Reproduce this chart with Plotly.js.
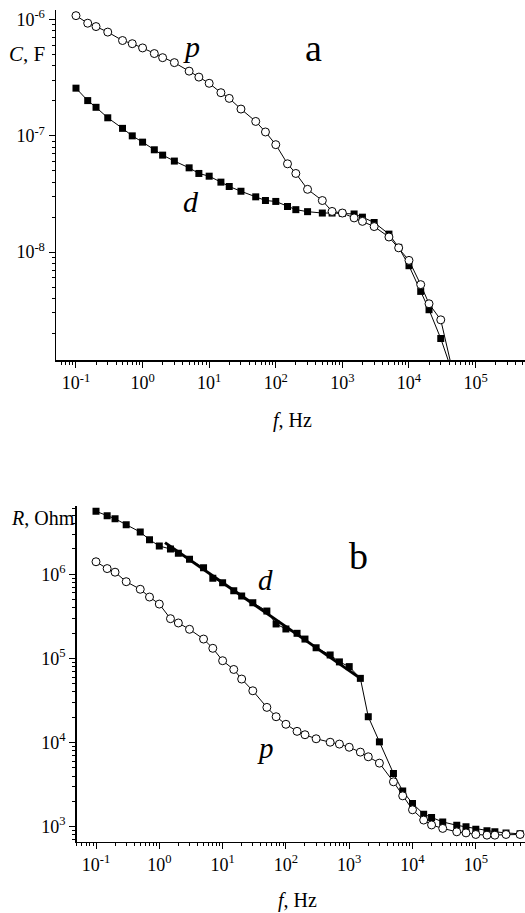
<!DOCTYPE html>
<html>
<head>
<meta charset="utf-8">
<script src="https://cdn.plot.ly/plotly-3.0.1.min.js"></script>
<style>html,body{margin:0;padding:0;background:#fff;}#chart{width:525px;height:913px;}</style>
</head>
<body>
<div id="chart"></div>
<script>
// Panel a: capacitance vs frequency
const fTop = [0.1,0.15,0.2,0.3,0.5,0.7,1,1.5,2,3,5,7,10,15,20,30,50,70,100,150,200,300,500,700,1000,1500,2000,3000,5000,7000,1e4,1.5e4,2e4,3e4,5e4];
const cP = [1.08e-6,9.3e-7,8.7e-7,7.8e-7,6.6e-7,6.2e-7,5.7e-7,5.1e-7,4.7e-7,4.26e-7,3.6e-7,3.2e-7,2.83e-7,2.35e-7,2.1e-7,1.7e-7,1.33e-7,1.08e-7,8.4e-8,5.75e-8,4.75e-8,3.47e-8,2.78e-8,2.24e-8,2.17e-8,1.97e-8,1.84e-8,1.66e-8,1.35e-8,1.09e-8,8.5e-9,5.26e-9,3.6e-9,2.62e-9,7.4e-10];
const cD = [2.57e-7,2.01e-7,1.76e-7,1.43e-7,1.16e-7,1.0e-7,8.83e-8,7.59e-8,6.83e-8,6.07e-8,5.31e-8,4.75e-8,4.5e-8,4.0e-8,3.67e-8,3.34e-8,2.99e-8,2.78e-8,2.73e-8,2.47e-8,2.32e-8,2.23e-8,2.17e-8,2.17e-8,2.16e-8,2.13e-8,2.0e-8,1.8e-8,1.43e-8,1.1e-8,7.65e-9,4.6e-9,3.2e-9,1.81e-9,7.7e-10];

// Panel b: resistance vs frequency
const fBot = [0.1,0.15,0.2,0.3,0.5,0.7,1,1.5,2,3,5,7,10,15,20,30,50,70,100,150,200,300,500,700,1000,1500,2000,3000,5000,7000,1e4,1.5e4,2e4,3e4,5e4,7e4,1e5,1.5e5,2e5,3e5,5e5];
const rD = [5.61e6,4.98e6,4.58e6,3.89e6,3.18e6,2.58e6,2.17e6,2.0e6,1.78e6,1.51e6,1.20e6,9.0e5,7.95e5,6.38e5,5.52e5,4.6e5,3.66e5,2.57e5,2.24e5,1.99e5,1.70e5,1.34e5,1.10e5,9.1e4,8.0e4,5.8e4,2.03e4,1.02e4,4.3e3,2.65e3,1.89e3,1.41e3,1.29e3,1.14e3,1.04e3,997,936,893,870,845,823];
const rP = [1.41e6,1.17e6,1.06e6,8.17e5,6.64e5,5.37e5,4.43e5,2.97e5,2.64e5,2.22e5,1.70e5,1.32e5,9.4e4,7.4e4,5.69e4,4.13e4,2.62e4,2.03e4,1.65e4,1.36e4,1.24e4,1.11e4,1.01e4,9.6e3,8.8e3,7.7e3,6.78e3,5.70e3,3.42e3,2.33e3,1.59e3,1.20e3,1.05e3,955,870,845,809,794,794,809,809];
const fitF = [1.23, 1500];
const fitR = [2.38e6, 5.8e4];

// Tick labels
const xTickVals = [0.1,1,10,100,1000,1e4,1e5];
const xTickText = ['10<sup>-1</sup>','10<sup>0</sup>','10<sup>1</sup>','10<sup>2</sup>','10<sup>3</sup>','10<sup>4</sup>','10<sup>5</sup>'];
const cTickVals = [1e-8,1e-7,1e-6];
const cTickText = ['10<sup>-8</sup>','10<sup>-7</sup>','10<sup>-6</sup>'];
const rTickVals = [1e3,1e4,1e5,1e6];
const rTickText = ['10<sup>3</sup>','10<sup>4</sup>','10<sup>5</sup>','10<sup>6</sup>'];

const FONT = 'Liberation Serif, Times New Roman, serif';
const W = 525, H = 913;
const px = x => x / W;
const py = y => 1 - y / H;

const sq = {symbol:'square', size:7, color:'#000', line:{color:'#000', width:0}};
const ci = {symbol:'circle', size:8, color:'#fff', line:{color:'#000', width:1}};
const thin = {color:'#000', width:1};

const traces = [
  {x:fTop, y:cD, xaxis:'x', yaxis:'y', mode:'lines+markers', line:thin, marker:sq},
  {x:fTop, y:cP, xaxis:'x', yaxis:'y', mode:'lines+markers', line:thin, marker:ci},
  {x:fBot, y:rD, xaxis:'x2', yaxis:'y2', mode:'lines+markers', line:thin, marker:sq},
  {x:fitF, y:fitR, xaxis:'x2', yaxis:'y2', mode:'lines', line:{color:'#000', width:3}},
  {x:fBot, y:rP, xaxis:'x2', yaxis:'y2', mode:'lines+markers', line:thin, marker:ci}
];

function axisBase(extra) {
  return Object.assign({
    type:'log', showgrid:false, zeroline:false, showline:true, linecolor:'#000', linewidth:1.5,
    ticks:'outside', ticklen:6, tickwidth:1, tickcolor:'#000', mirror:false,
    tickmode:'array', tickfont:{family:FONT, size:18, color:'#000'},
    minor:{ticks:'outside', ticklen:3, tickwidth:1, tickcolor:'#000', dtick:'D1', showgrid:false}
  }, extra);
}

function ann(text, x, y, size, xanchor) {
  return {text:text, x:px(x), y:py(y), xref:'paper', yref:'paper', showarrow:false,
          xanchor:xanchor || 'center', yanchor:'middle', font:{family:FONT, size:size, color:'#000'}};
}

const layout = {
  width:W, height:H, margin:{l:0, r:0, t:0, b:0},
  paper_bgcolor:'#fff', plot_bgcolor:'#fff', showlegend:false,
  font:{family:FONT, color:'#000'},
  xaxis: axisBase({domain:[px(56),1], anchor:'y', range:[-1.300,5.742], tickvals:xTickVals, ticktext:xTickText}),
  yaxis: axisBase({domain:[py(360),py(10)], anchor:'x', range:[-8.927,-5.918], tickvals:cTickVals, ticktext:cTickText}),
  xaxis2: axisBase({domain:[px(76.7),1], anchor:'y2', range:[-1.305,5.777], tickvals:xTickVals, ticktext:xTickText}),
  yaxis2: axisBase({domain:[py(841.7),py(506)], anchor:'x2', range:[2.822,6.812], tickvals:rTickVals, ticktext:rTickText}),
  annotations: [
    ann('a', 313, 48, 38),
    ann('<i>p</i>', 191, 46, 30),
    ann('<i>d</i>', 191, 201, 30),
    ann('<i>C</i>, F', 7, 54, 21, 'left'),
    ann('<i>f</i>, Hz', 292, 420, 20),
    ann('b', 358, 556, 38),
    ann('<i>d</i>', 265, 580, 29),
    ann('<i>p</i>', 265, 748, 29),
    ann('<i>R</i>, Ohm', 9, 518, 20, 'left'),
    ann('<i>f</i>, Hz', 297, 900, 20)
  ]
};

Plotly.newPlot('chart', traces, layout, {staticPlot:true, displayModeBar:false});
</script>
</body>
</html>
